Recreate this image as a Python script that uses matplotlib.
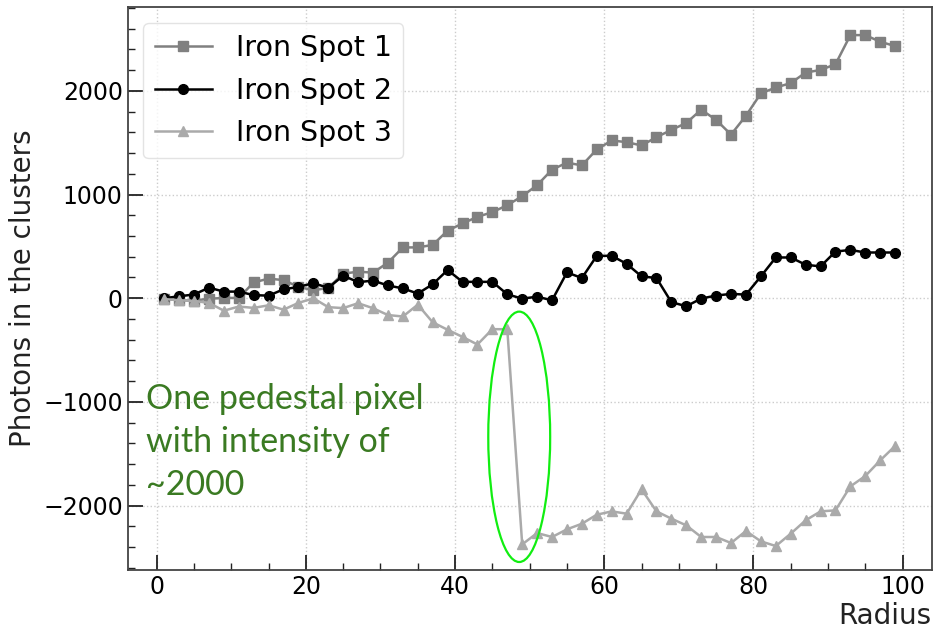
import matplotlib
matplotlib.use("Agg")
import matplotlib.pyplot as plt
from matplotlib.patches import Ellipse

# cluster photon counts per radius bin, three iron spots
radius = [1, 3, 5, 7, 9, 11, 13, 15, 17, 19, 21, 23, 25, 27, 29, 31, 33, 35, 37, 39,
          41, 43, 45, 47, 49, 51, 53, 55, 57, 59, 61, 63, 65, 67, 69, 71, 73, 75, 77, 79,
          81, 83, 85, 87, 89, 91, 93, 95, 97, 99]

spot1 = [-5, -20, -22, -5, 3, 3, 153, 189, 175, 110, 77, 100, 237, 256, 247, 343, 490, 490, 514, 652,
         721, 785, 830, 897, 984, 1090, 1240, 1307, 1281, 1435, 1521, 1505, 1473, 1553, 1623, 1690, 1818, 1719, 1578, 1760,
         1975, 2032, 2074, 2176, 2201, 2256, 2537, 2537, 2473, 2431]

spot2 = [0, 19, 36, 102, 64, 64, 30, 25, 86, 109, 146, 100, 218, 155, 170, 123, 95, 45, 135, 272,
         158, 158, 158, 38, -4, 15, -20, 249, 195, 409, 409, 332, 211, 195, -38, -77, -3, 26, 42, 35,
         211, 393, 393, 323, 307, 450, 466, 441, 441, 441]

spot3 = [-8, -19, -26, -45, -120, -80, -93, -68, -110, -45, 0, -86, -95, -48, -96, -162, -176, -62, -232, -304,
         -373, -446, -298, -299, -2373, -2264, -2302, -2228, -2174, -2087, -2055, -2077, -1842, -2055, -2125, -2190, -2302, -2302, -2360, -2244,
         -2344, -2389, -2270, -2141, -2055, -2045, -1814, -1714, -1563, -1424]

labels = ["Iron Spot 1", "Iron Spot 2", "Iron Spot 3"]

fig = plt.figure(figsize=(9.33, 6.36), dpi=100)
ax = fig.add_axes([0.1368, 0.1038, 0.8618, 0.8847])

ax.plot(radius, spot1, color="#808080", marker="s", markersize=6.5, lw=1.8, label=labels[0])
ax.plot(radius, spot2, color="black", marker="o", markersize=7, lw=1.8, label=labels[1])
ax.plot(radius, spot3, color="#aaaaaa", marker="^", markersize=7, lw=1.8, label=labels[2])

ax.set_xlim(-3.9, 103.9)
ax.set_ylim(-2620, 2805)
ax.set_xticks([0, 20, 40, 60, 80, 100])
ax.set_yticks([-2000, -1000, 0, 1000, 2000])
ax.set_xticks(range(0, 101, 5), minor=True)
ax.set_yticks(range(-2600, 2801, 200), minor=True)
ax.tick_params(which="both", direction="in", labelsize=17, color="#222222")
ax.tick_params(which="major", length=11, width=1.3)
ax.tick_params(which="minor", length=5, width=1.0)
ax.grid(True, which="major", linestyle=":", color="#cccccc", lw=1.0)
for sp in ax.spines.values():
    sp.set_color("#444444")
    sp.set_linewidth(1.3)

ax.set_ylabel("Photons in the clusters", fontsize=20, color="#222222")
ax.set_xlabel("Radius", fontsize=20, loc="right", color="#222222", labelpad=2)

leg = ax.legend(loc="upper left", fontsize=20.5, frameon=True, fancybox=True,
                borderaxespad=0.55, handlelength=2.0, handletextpad=0.85)
leg.get_frame().set_edgecolor("#dddddd")

# highlight the jump between the two bins around r=48
i = spot3.index(min(spot3[:30]))
cx = (radius[i - 1] + radius[i]) / 2 + 0.6
cy = (spot3[i - 1] + spot3[i]) / 2
ax.add_patch(Ellipse((cx, cy), 8.3, abs(spot3[i] - spot3[i - 1]) + 340,
                     fill=False, edgecolor="#11ee11", lw=1.6, zorder=5))

fig.text(146 / 933, 1 - 495 / 636, "One pedestal pixel\nwith intensity of\n~2000",
         family="Lato", fontsize=24.5, color="#3a7a22", va="baseline", ha="left",
         linespacing=1.43, transform=fig.transFigure)

fig.savefig("out.png", dpi=100)
